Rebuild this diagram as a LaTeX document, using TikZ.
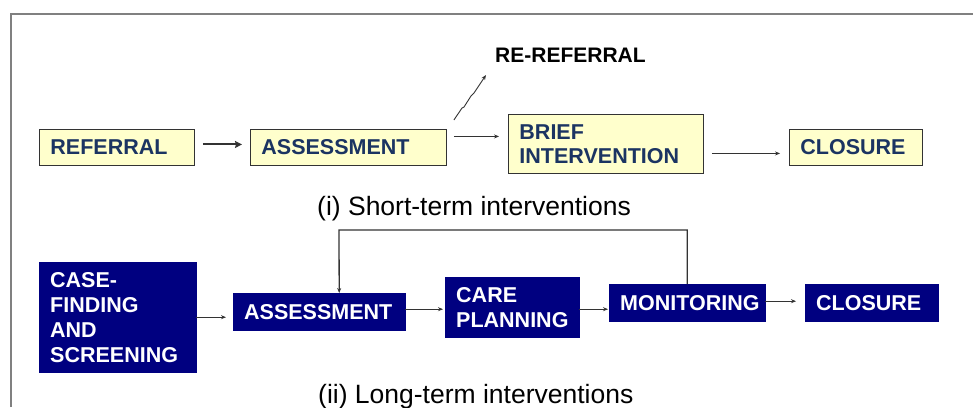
\documentclass[tikz,border=0pt]{standalone}
\usepackage{fontspec}
\setmainfont{Liberation Sans}
\usetikzlibrary{arrows.meta}

\definecolor{boxyellow}{HTML}{FFFFCC}
\definecolor{txtblue}{HTML}{1B3462}
\definecolor{navy}{HTML}{000080}

\tikzset{
  ybox/.style={draw=black!80, line width=0.9pt, fill=boxyellow, text=txtblue,
    font=\bfseries\fontsize{21.5}{24}\selectfont, align=left,
    inner xsep=11pt, inner ysep=0pt, anchor=north west},
  nbox/.style={draw=navy, fill=navy, text=white,
    font=\bfseries\fontsize{21.5}{25}\selectfont, align=left,
    inner xsep=11pt, inner ysep=0pt, anchor=north west},
  flow/.style={-{Stealth[length=5pt,width=4pt]}, black!80, line width=0.9pt},
  caption/.style={font=\fontsize{26.5}{30}\selectfont, anchor=base west, inner sep=0pt},
}

\begin{document}
\begin{tikzpicture}[x=1pt, y=-1pt]
\useasboundingbox (0,0) rectangle (973,407);

% frame
\draw[gray, line width=1.5pt] (11,407) -- (11,14) -- (973,14);

% (i) short-term
\node[ybox, text width=133pt, minimum height=36pt] (ref) at (39,129) {REFERRAL};
\node[ybox, text width=174pt, minimum height=36pt] (ass1) at (250,129) {ASSESSMENT};
\node[ybox, text width=173pt, minimum height=59pt] (brief) at (508,114) {BRIEF\\INTERVENTION};
\node[ybox, text width=111pt, minimum height=36pt] (clos1) at (789,129) {CLOSURE};
\node[anchor=base west, inner sep=0pt, font=\bfseries\fontsize{21}{24}\selectfont] (reref) at (495,62) {RE-REFERRAL};
\coordinate (reup) at (486,75);

\draw[flow, line width=2pt, -{Stealth[length=7pt,width=7pt,inset=1pt]}, shorten <=8pt, shorten >=8pt] ([yshift=3pt]ref.east) -- ([yshift=3pt]ass1.west);
\draw[flow, shorten <=7pt, shorten >=9pt] ([yshift=11pt]ass1.east) -- ([yshift=7.5pt]brief.west);
\draw[flow, shorten <=8pt, shorten >=9pt] ([yshift=-9.5pt]brief.east) -- ([yshift=-6pt]clos1.west);
\draw[flow] ([shift={(7pt,9pt)}]ass1.north east) -- (462,108) -- (464,107) -- (471,96) -- (474,93) -- (reup);

\node[caption] (cap1) at (317,215) {(i) Short-term interventions};

% (ii) long-term
\node[nbox, text width=135pt, minimum height=110pt] (case) at (39,262) {CASE-\\FINDING\\AND\\SCREENING};
\node[nbox, text width=150pt, minimum height=37pt] (ass2) at (233,293) {ASSESSMENT};
\node[nbox, text width=112pt, minimum height=60pt] (care) at (445,277) {CARE\\PLANNING};
\node[nbox, text width=134pt, minimum height=37pt] (mon) at (609,284) {MONITORING};
\node[nbox, text width=111pt, minimum height=37pt] (clos2) at (805,284) {CLOSURE};
\coordinate (loop) at (339,230);

\draw[flow, shorten >=7pt] (case.east) -- ([yshift=-5.5pt]ass2.west);
\draw[flow, shorten >=2pt] ([yshift=2.5pt]ass2.east) -- ([yshift=-2pt]care.west);
\draw[flow, shorten >=1pt] ([yshift=-2pt]care.east) -- ([yshift=-6.5pt]mon.west);
\draw[flow, shorten >=9pt] ([yshift=1.5pt]mon.east) -- ([yshift=1.5pt]clos2.west);
\draw[flow, line width=1.3pt] (mon.north) |- (loop) -- ([xshift=20pt]ass2.north);

\node[caption] (cap2) at (318,403) {(ii) Long-term interventions};
\end{tikzpicture}
\end{document}
